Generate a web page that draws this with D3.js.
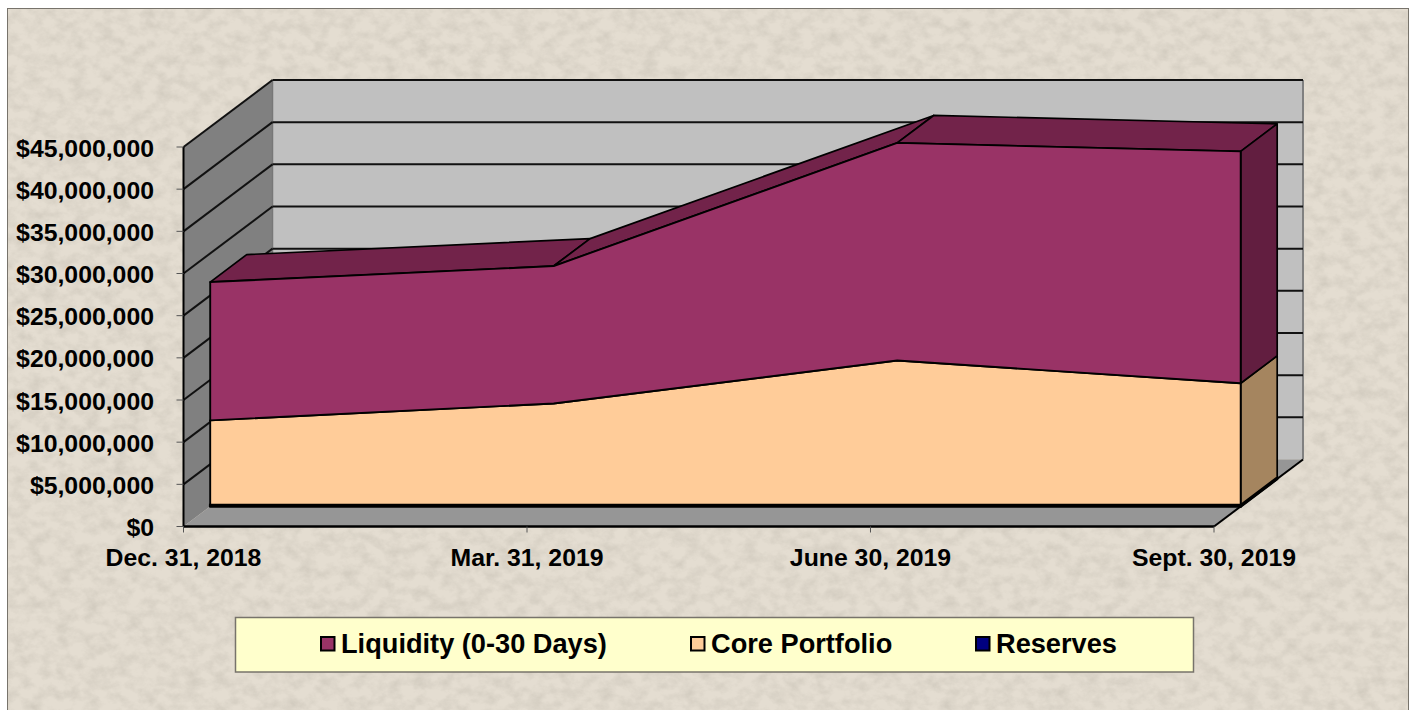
<!DOCTYPE html>
<html><head><meta charset="utf-8">
<script src="https://cdn.jsdelivr.net/npm/d3@7/dist/d3.min.js"></script>
<style>html,body{margin:0;padding:0;background:#fff;overflow:hidden}svg{display:block}text{font-family:"Liberation Sans",Arial,sans-serif;font-weight:bold;fill:#000}</style>
</head><body><svg id="c" width="1415" height="710"></svg>
<script>
const categories=["Dec. 31, 2018","Mar. 31, 2019","June 30, 2019","Sept. 30, 2019"];
const reserves=[200000,200000,200000,200000];
const core=[10000000,12000000,17100000,14400000];
const liquidity=[16400000,16300000,25800000,27500000];
const yTicks=[0,5e6,10e6,15e6,20e6,25e6,30e6,35e6,40e6,45e6];
const legendNames=["Liquidity (0-30 Days)","Core Portfolio","Reserves"];
const legendColors=["#993366","#FFCC99","#000080"];
const legendX=[320,690,975];

const svg=d3.select("#c");
const x=d3.scalePoint().domain(d3.range(categories.length)).range([183.5,1214]);
const y=d3.scaleLinear().domain([0,45e6]).range([526.5,147]);
const ox=d3.scaleLinear().domain([0,1]).range([0,89]);
const oy=d3.scaleLinear().domain([0,1]).range([0,-67]);
const P=(i,v,d)=>[x(i)+ox(d),y(v)+oy(d)];
const L=d3.line();
const poly=(pts,fill,stroke,w)=>svg.append("path").attr("d",L(pts)+"Z").attr("fill",fill).attr("stroke",stroke||"none").attr("stroke-width",w||0).attr("stroke-linejoin","round");
const seg=(a,b,c,w)=>svg.append("line").attr("x1",a[0]).attr("y1",a[1]).attr("x2",b[0]).attr("y2",b[1]).attr("stroke",c).attr("stroke-width",w);

// textured background
const defs=svg.append("defs");
const f=defs.append("filter").attr("id","tex").attr("x",0).attr("y",0).attr("width","100%").attr("height","100%");
f.append("feTurbulence").attr("type","fractalNoise").attr("baseFrequency","0.07 0.09").attr("numOctaves",4).attr("seed",7);
f.append("feColorMatrix").attr("type","matrix").attr("values","0 0 0 0 0.42  0 0 0 0 0.39  0 0 0 0 0.33  1.5 0 0 0 -0.55");
svg.append("rect").attr("x",7.5).attr("y",8.5).attr("width",1401).attr("height",702).attr("fill","#e4ddd1").attr("stroke","#77736b").attr("stroke-width",1);
svg.append("rect").attr("x",8).attr("y",9).attr("width",1400).attr("height",701).attr("fill","#fff").attr("filter","url(#tex)").attr("opacity",.4);

const last=categories.length-1, topV=yTicks[yTicks.length-1];
// walls
poly([P(0,0,1),P(last,0,1),P(last,topV,1),P(0,topV,1)],"#C0C0C0");
poly([P(0,0,0),P(0,0,1),P(0,topV,1),P(0,topV,0)],"#808080");
poly([P(0,0,0),P(last,0,0),P(last,0,1),P(0,0,1)],"#969696");
seg(P(last,0,1),P(last,topV,1),"#808080",2);
seg(P(0,0,1),P(0,topV,1),"#777",1.5);
// gridlines
yTicks.forEach(t=>{ if(t===0)return;
  seg(P(0,t,0),P(0,t,1),"#111",2);
  seg(P(0,t,1),P(last,t,1),"#111",2);
});
// axes
seg(P(0,0,0),P(last,0,0),"#000",2.5);
seg(P(last,0,0),P(last,0,1),"#000",2);
seg(P(0,0,0),P(0,topV,0),"#000",2);
yTicks.forEach(t=>seg([x(0)-7,y(t)],[x(0),y(t)],"#555",1));
categories.forEach((c,i)=>seg([x(i),y(0)],[x(i),y(0)+6],"#555",1));

// stacked 3D series
const dF=0.30, dB=0.71;
const st=d3.stack().keys([0,1,2]).value((d,k)=>d[k])(categories.map((c,i)=>[reserves[i],core[i],liquidity[i]]));
const faces=[{c:"#000080",t:"#00005a",s:"#000050"},{c:"#FFCC99",t:"#a5855f",s:"#A5855F"},{c:"#993366",t:"#72234A",s:"#621E40"}];
st.forEach((layer,k)=>{
  const F=faces[k];
  for(let i=0;i<last;i++){
    poly([P(i,layer[i][1],dF),P(i+1,layer[i+1][1],dF),P(i+1,layer[i+1][1],dB),P(i,layer[i][1],dB)],F.t,"#000",1.7);
  }
  poly([P(last,layer[last][0],dF),P(last,layer[last][1],dF),P(last,layer[last][1],dB),P(last,layer[last][0],dB)],F.s,"#000",k===0?2.5:1.7);
});
st.forEach((layer,k)=>{
  const F=faces[k];
  const pts=d3.range(categories.length).map(i=>P(i,layer[i][1],dF))
    .concat(d3.range(last,-1,-1).map(i=>P(i,layer[i][0],dF)));
  poly(pts,F.c,"#000",k===0?2.6:1.9);
});

// axis labels
yTicks.forEach(t=>svg.append("text").attr("x",154).attr("y",y(t)).attr("dy",9.5).attr("text-anchor","end").attr("font-size",24.8).text("$"+d3.format(",")(t)));
categories.forEach((c,i)=>svg.append("text").attr("x",x(i)).attr("y",566).attr("text-anchor","middle").attr("font-size",24.8).text(c));

// legend
svg.append("rect").attr("x",235.5).attr("y",617.5).attr("width",958).attr("height",54.5).attr("fill","#FFFFCC").attr("stroke","#77736b").attr("stroke-width",1.5);
legendNames.forEach((n,i)=>{
  svg.append("rect").attr("x",legendX[i]+1).attr("y",637).attr("width",13.5).attr("height",13.5).attr("fill",legendColors[i]).attr("stroke","#000").attr("stroke-width",2);
  svg.append("text").attr("x",legendX[i]+21).attr("y",653).attr("font-size",27.2).text(n);
});
</script></body></html>
